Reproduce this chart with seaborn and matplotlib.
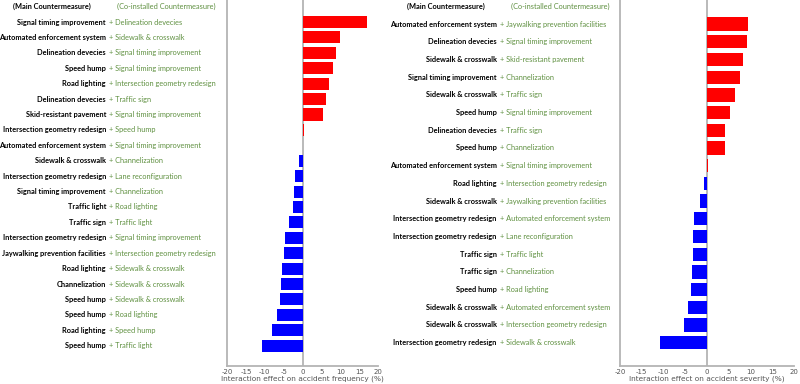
import matplotlib
matplotlib.use("Agg")
import matplotlib.pyplot as plt
import matplotlib.transforms as mtransforms
import seaborn as sns
import pandas as pd

# frequency panel
freq_main = ["Signal timing improvement", "Automated enforcement system", "Delineation devecies",
             "Speed hump", "Road lighting", "Delineation devecies", "Skid-resistant pavement",
             "Intersection geometry redesign", "Automated enforcement system", "Sidewalk & crosswalk",
             "Intersection geometry redesign", "Signal timing improvement", "Traffic light",
             "Traffic sign", "Intersection geometry redesign", "Jaywalking prevention facilities",
             "Road lighting", "Channelization", "Speed hump", "Speed hump", "Road lighting",
             "Speed hump"]
freq_co = ["Delineation devecies", "Sidewalk & crosswalk", "Signal timing improvement",
           "Signal timing improvement", "Intersection geometry redesign", "Traffic sign",
           "Signal timing improvement", "Speed hump", "Signal timing improvement", "Channelization",
           "Lane reconfiguration", "Channelization", "Road lighting", "Traffic light",
           "Signal timing improvement", "Intersection geometry redesign", "Sidewalk & crosswalk",
           "Sidewalk & crosswalk", "Sidewalk & crosswalk", "Road lighting", "Speed hump",
           "Traffic light"]
freq_vals = [17.1, 9.9, 8.9, 7.9, 7.0, 6.2, 5.4, 0.4, 0.15, -1.1, -2.0, -2.3, -2.6, -3.5,
             -4.8, -5.0, -5.6, -5.8, -5.9, -6.8, -8.0, -10.7]

# severity panel
sev_main = ["Automated enforcement system", "Delineation devecies", "Sidewalk & crosswalk",
            "Signal timing improvement", "Sidewalk & crosswalk", "Speed hump",
            "Delineation devecies", "Speed hump", "Automated enforcement system", "Road lighting",
            "Sidewalk & crosswalk", "Intersection geometry redesign",
            "Intersection geometry redesign", "Traffic sign", "Traffic sign", "Speed hump",
            "Sidewalk & crosswalk", "Sidewalk & crosswalk", "Intersection geometry redesign"]
sev_co = ["Jaywalking prevention facilities", "Signal timing improvement",
          "Skid-resistant pavement", "Channelization", "Traffic sign",
          "Signal timing improvement", "Traffic sign", "Channelization",
          "Signal timing improvement", "Intersection geometry redesign",
          "Jaywalking prevention facilities", "Automated enforcement system",
          "Lane reconfiguration", "Traffic light", "Channelization", "Road lighting",
          "Automated enforcement system", "Intersection geometry redesign",
          "Sidewalk & crosswalk"]
sev_vals = [9.4, 9.2, 8.2, 7.5, 6.3, 5.2, 4.1, 4.0, 0.2, -0.8, -1.7, -3.1, -3.2, -3.2,
            -3.5, -3.8, -4.4, -5.2, -10.8]

xticks = [-20, -15, -10, -5, 0, 5, 10, 15, 20]

sns.set_style("white")
label_font = ["Lato", "DejaVu Sans"]
GREEN = "#5f9040"
GRAY = "#b4b4b4"
FS = 5.3

fig = plt.figure(figsize=(8, 3.84), dpi=100)


def panel(rect, main, co, vals, ylim, main_x, co_x, hdr_main_x, hdr_co_x, width, xlabel):
    ax = fig.add_axes(rect)
    df = pd.DataFrame({"row": [f"{m} + {c}" for m, c in zip(main, co)],
                       "val": vals,
                       "sign": ["pos" if v >= 0 else "neg" for v in vals]})
    sns.barplot(data=df, x="val", y="row", hue="sign", orient="h", dodge=False,
                palette={"pos": "#ff0000", "neg": "#0000ff"}, width=width, saturation=1,
                linewidth=0, legend=False, ax=ax)
    ax.set_xlim(-20, 20)
    ax.set_ylim(*ylim)
    ax.set_xticks(xticks)
    ax.set_xticklabels([str(t) for t in xticks])
    ax.tick_params(axis="x", labelsize=5, colors="#555555", length=1.5, width=0.6, pad=1)
    ax.tick_params(axis="y", left=False, labelleft=False)
    ax.set_ylabel("")
    ax.set_xlabel(xlabel, fontsize=5.3, color="#555555", labelpad=0.5)
    for s in ["top", "right"]:
        ax.spines[s].set_visible(False)
    for s in ["left", "bottom"]:
        ax.spines[s].set_color(GRAY)
        ax.spines[s].set_linewidth(1.3)
    ax.axvline(0, color=GRAY, lw=1.3, zorder=0)

    tr = mtransforms.blended_transform_factory(fig.transFigure, ax.transData)
    for i, (m, c) in enumerate(zip(main, co)):
        ax.text(main_x, i, m, transform=tr, ha="right", va="center", fontsize=FS,
                fontweight="bold", family=label_font, color="black", clip_on=False)
        ax.text(co_x, i, "+ " + c, transform=tr, ha="left", va="center", fontsize=FS,
                family=label_font, color=GREEN, clip_on=False)
    ax.text(hdr_main_x, -1, "(Main Countermeasure)", transform=tr, ha="center", va="center",
            fontsize=FS, fontweight="bold", family=label_font, color="black", clip_on=False)
    ax.text(hdr_co_x, -1, "(Co-installed Countermeasure)", transform=tr, ha="center",
            va="center", fontsize=FS, family=label_font, color=GREEN, clip_on=False)
    return ax


panel([227 / 800, 18.3 / 384, 151.4 / 800, 365.7 / 384], freq_main, freq_co, freq_vals,
      (22.3, -1.43), 106 / 800, 109 / 800, 51.5 / 800, 166 / 800, 0.78,
      "Interaction effect on accident frequency (%)")
panel([620 / 800, 18.3 / 384, 174.3 / 800, 365.7 / 384], sev_main, sev_co, sev_vals,
      (19.3, -1.36), 496.7 / 800, 500 / 800, 446 / 800, 560 / 800, 0.75,
      "Interaction effect on accident severity (%)")

fig.savefig("out.png", dpi=100)
